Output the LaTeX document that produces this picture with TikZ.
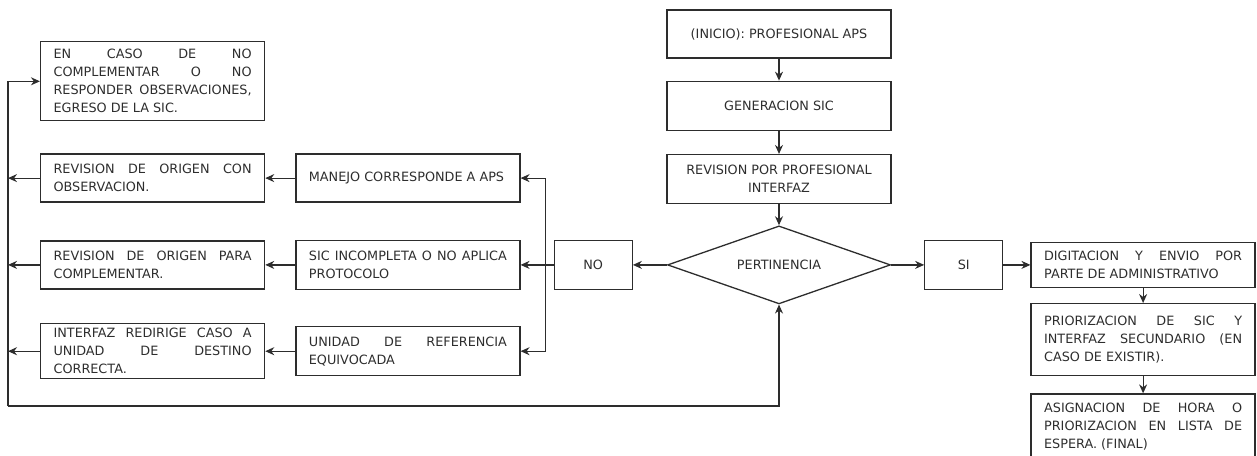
\documentclass[tikz,border=0pt]{standalone}
\usepackage{fontspec}
\setmainfont{DejaVu Sans}
\usepackage{xcolor}
\usetikzlibrary{shapes.geometric, arrows.meta, positioning}
\definecolor{inkgray}{RGB}{45,45,45}
\newcommand{\flowfont}{\fontsize{12.8}{18}\selectfont\hyphenpenalty=10000\tolerance=9999}
\tikzstyle{textbox} = [draw=inkgray, line width=1.3pt, rectangle, text width=198pt, inner xsep=13pt, inner ysep=0pt, align=justify, text=inkgray, font=\flowfont]
\tikzstyle{centerbox} = [draw=inkgray, line width=1.3pt, rectangle, minimum width=224pt, inner ysep=0pt, align=center, text=inkgray, font=\flowfont]
\tikzstyle{answer} = [draw=inkgray, line width=1.3pt, rectangle, minimum width=78pt, minimum height=49pt, text=inkgray, font=\flowfont]
\tikzstyle{decision} = [draw=inkgray, line width=1.3pt, diamond, aspect=2.9, minimum width=223pt, minimum height=78pt, inner sep=0pt, text=inkgray, font=\flowfont]
\tikzstyle{arrow} = [draw=inkgray, line width=1.2pt, -{Stealth[length=9pt,width=8pt]}]

\begin{document}
\begin{tikzpicture}[x=1pt, y=-1pt]
    \useasboundingbox (0,0) rectangle (1257,455);
    % central column
    \node (inicio) [centerbox, minimum height=48pt] at (779,34) {(INICIO): PROFESIONAL APS};
    \node (generacion) [centerbox, minimum height=49pt, below=22pt of inicio] {GENERACION SIC};
    \node (revision) [centerbox, minimum height=49pt, below=23pt of generacion] {REVISION POR PROFESIONAL\\INTERFAZ};
    \node (pertinencia) [decision, below=21pt of revision] {PERTINENCIA};
    \node (no) [answer, left=34pt of pertinencia] {NO};
    \node (si) [answer, right=33pt of pertinencia] {SI};
    % right column
    \node (digitacion) [textbox, minimum height=45pt, right=27pt of si] {DIGITACION Y ENVIO POR\linebreak PARTE DE ADMINISTRATIVO};
    \node (priorizacion) [textbox, minimum height=72pt, below=15pt of digitacion] {PRIORIZACION DE SIC Y\linebreak INTERFAZ SECUNDARIO (EN\linebreak CASO DE EXISTIR).};
    \node (asignacion) [textbox, minimum height=66pt, below=17pt of priorizacion] {ASIGNACION DE HORA O\linebreak PRIORIZACION EN LISTA DE\linebreak ESPERA. (FINAL)};
    % middle column
    \node (sicinc) [textbox, minimum height=49pt, left=33pt of no] {SIC INCOMPLETA O NO APLICA\linebreak PROTOCOLO};
    \node (manejo) [textbox, minimum height=48pt, above=37pt of sicinc] {MANEJO CORRESPONDE A APS};
    \node (unidad) [textbox, minimum height=49pt, below=36pt of sicinc] {UNIDAD DE REFERENCIA\linebreak EQUIVOCADA};
    % left column
    \node (revcomp) [textbox, minimum height=48pt, left=30pt of sicinc] {REVISION DE ORIGEN PARA\linebreak COMPLEMENTAR.};
    \node (revobs) [textbox, minimum height=48pt, left=30pt of manejo] {REVISION DE ORIGEN CON\linebreak OBSERVACION.};
    \node (interfaz) [textbox, minimum height=55pt, left=30pt of unidad] {INTERFAZ REDIRIGE CASO A\linebreak UNIDAD DE DESTINO\linebreak CORRECTA.};
    \node (encaso) [textbox, minimum height=79pt, above=32pt of revobs] {EN CASO DE NO\linebreak COMPLEMENTAR O NO\linebreak RESPONDER OBSERVACIONES,\linebreak EGRESO DE LA SIC.};
    \node (split) [coordinate, left=8pt of no.west] {};
    \coordinate (bus) at (8,406);

    \draw [arrow] (inicio) -- (generacion);
    \draw [arrow] (generacion) -- (revision);
    \draw [arrow] (revision) -- (pertinencia);
    \draw [arrow] (pertinencia) -- (no);
    \draw [arrow] (pertinencia) -- (si);
    \draw [arrow] (si) -- (digitacion.west |- si);
    \draw [arrow] (digitacion) -- (priorizacion);
    \draw [arrow] (priorizacion) -- (asignacion);
    \draw [arrow] (no) -- (sicinc.east |- no);
    \draw [arrow] (split) |- (manejo);
    \draw [arrow] (split) |- (unidad);
    \draw [arrow] (manejo) -- (revobs);
    \draw [arrow] (sicinc.west |- no) -- (revcomp.east |- no);
    \draw [arrow] (unidad) -- (interfaz);
    \draw [arrow] (revobs) -- (revobs -| bus);
    \draw [arrow] (revcomp.west |- no) -- (bus |- no);
    \draw [arrow] (interfaz) -- (interfaz -| bus);
    \draw [arrow] (bus) |- (encaso);
    \draw [arrow] (bus) -| (pertinencia);
\end{tikzpicture}
\end{document}
